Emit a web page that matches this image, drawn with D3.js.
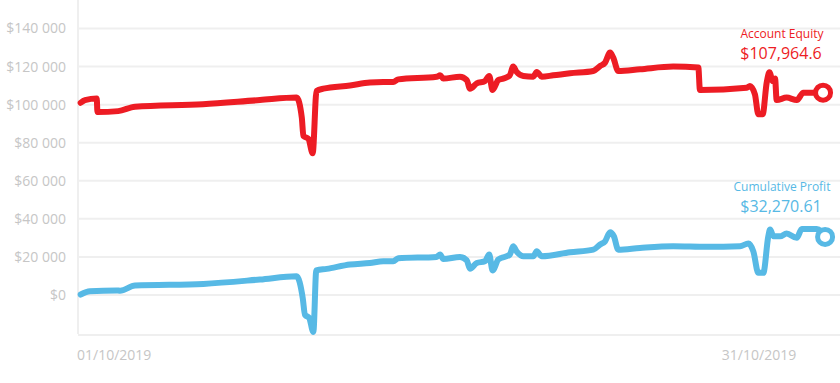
<!DOCTYPE html>
<html>
<head>
<meta charset="utf-8">
<script src="https://cdn.jsdelivr.net/npm/d3@7"></script>
<style>
  body { margin: 0; background: #fff; }
  svg { display: block; font-family: "Open Sans", sans-serif; }
</style>
</head>
<body>
<svg id="chart" width="840" height="383"></svg>
<script>
// days since 01/10/2019
var equityDays = [0.03, 0.22, 0.74, 0.77, 1.69, 2.43, 5.43, 7.95, 9.57, 9.80, 9.87, 10.09, 10.28, 10.45, 10.75,
  11.93, 12.81, 13.40, 13.84, 14.06, 15.76, 15.91, 16.05, 16.79, 17.09, 17.23, 17.53, 17.89, 18.08, 18.23,
  18.48, 18.70, 18.99, 19.14, 19.29, 19.59, 20.03, 20.18, 20.40, 20.91, 21.65, 22.68, 22.98, 23.20, 23.42,
  23.56, 23.78, 24.74, 26.21, 27.32, 27.39, 29.46, 29.60, 29.82, 29.97, 30.16, 30.34, 30.46, 30.61, 30.71,
  30.78, 31.22, 31.67, 31.96, 32.83];
var equityValues = [101000, 102400, 103200, 96100, 96600, 98900, 100200, 102400, 103700, 93200, 83500, 82100, 74400, 107200, 108400,
  110100, 111600, 111900, 111900, 113300, 114700, 115400, 113700, 114700, 112900, 108400, 111200, 112400, 115100, 107700,
  112900, 113700, 115400, 120000, 117200, 115100, 114700, 117200, 114700, 115400, 116500, 117700, 120300, 122100, 127400,
  124700, 117700, 118600, 120000, 119500, 107700, 108900, 109800, 105400, 94900, 94900, 111600, 117000, 112400, 113700,
  102400, 103700, 102400, 106300, 106300];

var profitDays = [0.03, 0.44, 1.62, 1.77, 2.43, 5.45, 7.95, 9.57, 9.84, 9.94, 10.13, 10.31, 10.44, 10.90, 11.93,
  12.81, 13.40, 13.84, 14.06, 15.76, 15.91, 16.05, 16.79, 17.09, 17.23, 17.53, 17.89, 18.08, 18.23, 18.48,
  18.99, 19.14, 19.29, 19.59, 20.03, 20.18, 20.40, 21.65, 22.68, 22.98, 23.20, 23.42, 23.59, 23.78, 24.74,
  26.21, 27.69, 29.16, 29.53, 29.75, 29.97, 30.19, 30.41, 30.49, 30.64, 30.93, 31.22, 31.67, 31.89, 32.55, 32.92];
var profitValues = [200, 1900, 2400, 2200, 4900, 5800, 8100, 9800, -1600, -10400, -12100, -19500, 12900, 13700, 16000,
  16800, 17700, 17700, 19300, 20000, 21200, 18900, 20000, 18200, 13800, 16800, 17700, 21200, 12900, 18600,
  21200, 25600, 22900, 20300, 20300, 22900, 20300, 22400, 23800, 26500, 28200, 33000, 30800, 23800, 24700,
  25600, 25300, 25600, 27000, 22900, 11600, 11600, 30800, 34400, 30800, 30800, 32300, 30000, 34700, 34700, 30500];

var yTicks = [0, 20000, 40000, 60000, 80000, 100000, 120000, 140000];
var xTickDays = [0, 30];
var xTickLabels = ['01/10/2019', '31/10/2019'];

var equityLabel = 'Account Equity', equityText = '$107,964.6';
var profitLabel = 'Cumulative Profit', profitText = '$32,270.61';

var red = '#ed1c24', blue = '#57b9e5', grid = '#efefef', tickColor = '#c6c6c6';

var svg = d3.select('#chart');
var x = d3.scaleLinear().domain([0, 30]).range([80, 759]);
var y = d3.scaleLinear().domain([-20000, 155000]).range([333, 0]);

var fmt = d3.formatLocale({decimal: '.', thousands: ' ', grouping: [3], currency: ['$', '']}).format('$,');

// gridlines
svg.append('g').selectAll('line').data(yTicks).enter().append('line')
  .attr('x1', 78).attr('x2', 840)
  .attr('y1', function(d) { return y(d); }).attr('y2', function(d) { return y(d); })
  .attr('stroke', grid).attr('stroke-width', 2);

svg.append('line').attr('x1', 78).attr('x2', 78).attr('y1', 0).attr('y2', 334)
  .attr('stroke', grid).attr('stroke-width', 2);
svg.append('line').attr('x1', 78).attr('x2', 840).attr('y1', 335).attr('y2', 335)
  .attr('stroke', grid).attr('stroke-width', 2);

// y labels
svg.append('g').selectAll('text').data(yTicks).enter().append('text')
  .attr('x', 66).attr('y', function(d) { return y(d); })
  .attr('dy', '0.35em').attr('text-anchor', 'end')
  .attr('fill', tickColor).attr('font-size', 14)
  .text(function(d) { return fmt(d); });

// x labels
svg.append('g').selectAll('text').data(xTickDays).enter().append('text')
  .attr('x', function(d, i) { return i === 0 ? 77 : x(d); })
  .attr('y', 360)
  .attr('text-anchor', function(d, i) { return i === 0 ? 'start' : 'middle'; })
  .attr('fill', tickColor).attr('font-size', 14)
  .text(function(d, i) { return xTickLabels[i]; });

function drawSeries(days, values, color) {
  var pts = days.map(function(d, i) { return [x(d), y(values[i])]; });
  var line = d3.line().curve(d3.curveMonotoneX);
  svg.append('path').attr('d', line(pts))
    .attr('fill', 'none').attr('stroke', color).attr('stroke-width', 6)
    .attr('stroke-linejoin', 'round').attr('stroke-linecap', 'round');
  var last = pts[pts.length - 1];
  svg.append('circle').attr('cx', last[0]).attr('cy', last[1]).attr('r', 7.5)
    .attr('fill', '#fff').attr('stroke', color).attr('stroke-width', 5);
}

drawSeries(equityDays, equityValues, red);
drawSeries(profitDays, profitValues, blue);

function annotate(label, value, cy, color) {
  svg.append('text').attr('x', 782).attr('y', cy).attr('text-anchor', 'middle')
    .attr('fill', color).attr('font-size', 12).text(label);
  svg.append('text').attr('x', 781).attr('y', cy + 21).attr('text-anchor', 'middle')
    .attr('fill', color).attr('font-size', 16).text(value);
}
annotate(equityLabel, equityText, 38, red);
annotate(profitLabel, profitText, 191, blue);
</script>
</body>
</html>
